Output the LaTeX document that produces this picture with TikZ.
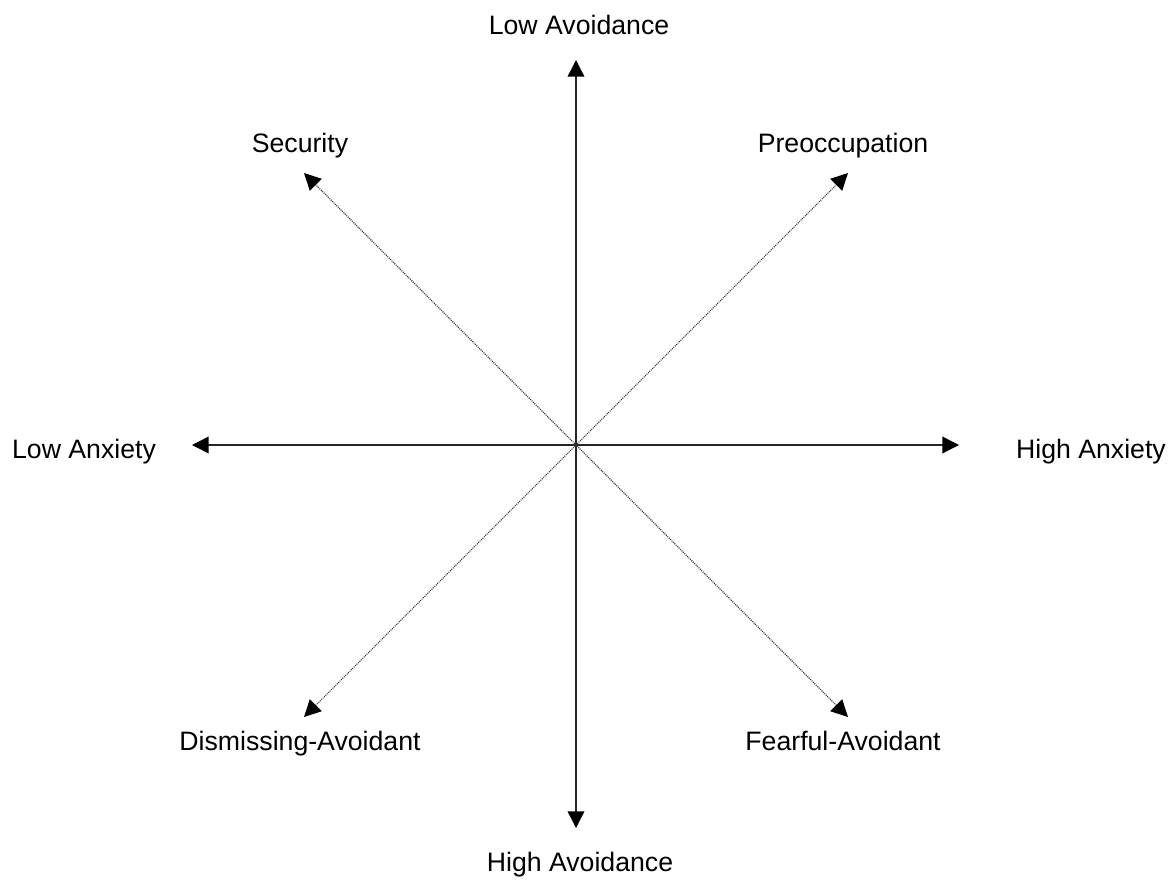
\documentclass[tikz,border=0pt]{standalone}
\usepackage{fontspec}
\setmainfont{Liberation Sans}
\usetikzlibrary{arrows.meta}
\begin{document}
\begin{tikzpicture}[x=0.75pt,y=-0.75pt,
  >={Triangle[length=12.5pt,width=12.5pt,color=black,fill=black]},
  axisline/.style={draw=black!85,line width=1.1pt,<->},
  styleline/.style={draw=black!80,line width=0.8pt,dash pattern=on 0.75pt off 0.75pt,<->},
  lbl/.style={anchor=base,inner sep=0pt,font=\fontsize{20}{24}\selectfont}]
\useasboundingbox (0,0) rectangle (1171,882);
% origin and arrow ends
\coordinate (o) at (576,445);
\coordinate (top) at (576,60);
\coordinate (bottom) at (576,828);
\coordinate (left) at (192,445);
\coordinate (right) at (959,445);
\coordinate (nw) at (304,173);
\coordinate (ne) at (848,173);
\coordinate (sw) at (304,717);
\coordinate (se) at (848,717);
% dimensions
\draw[axisline] (left) -- (right);
\draw[axisline] (bottom) -- (top);
% attachment styles
\draw[styleline] (se) -- (nw);
\draw[styleline] (sw) -- (ne);
% labels
\node[lbl] (lowav) at (579,34) {Low Avoidance};
\node[lbl] (highav) at (580,871) {High Avoidance};
\node[lbl] (lowanx) at (84,458) {Low Anxiety};
\node[lbl] (highanx) at (1091,458) {High Anxiety};
\node[lbl] (sec) at (300,152) {Security};
\node[lbl] (pre) at (843,152) {Preoccupation};
\node[lbl] (dis) at (300,750) {Dismissing-Avoidant};
\node[lbl] (fea) at (843,750) {Fearful-Avoidant};
\end{tikzpicture}
\end{document}
